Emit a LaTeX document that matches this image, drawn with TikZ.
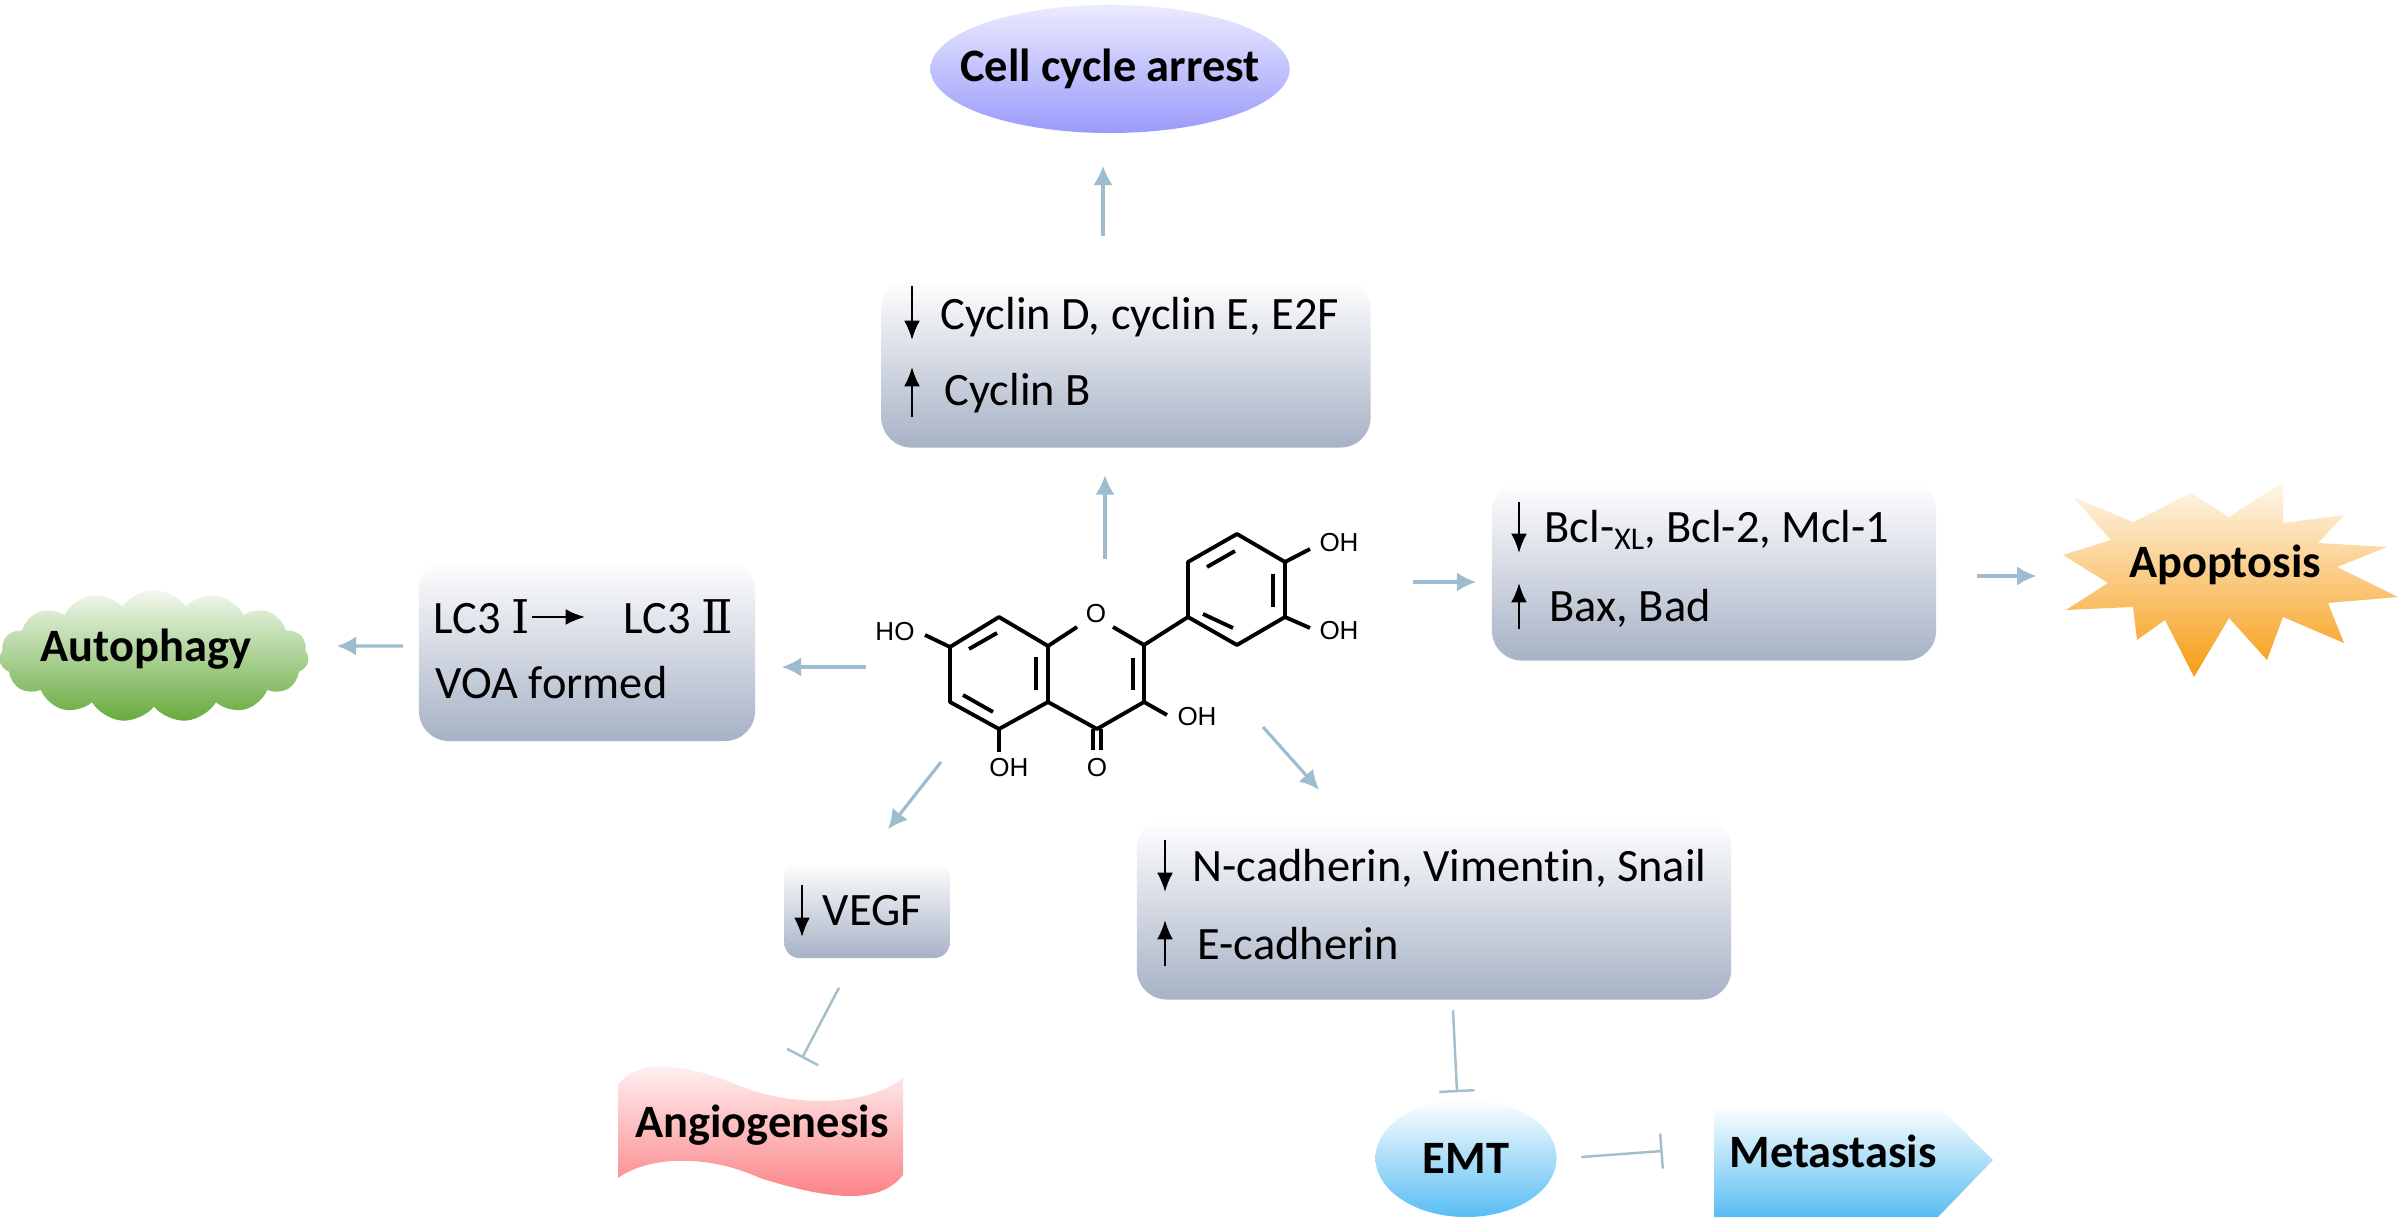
\documentclass[tikz,border=0pt]{standalone}
\usepackage{fontspec}
\setmainfont[RawFeature={-liga}]{Carlito}
\newfontfamily\chemfont{Liberation Sans}
\newfontfamily\numfont{DejaVu Serif}
\usetikzlibrary{arrows.meta,shapes.geometric,shapes.symbols}
\definecolor{flowblue}{HTML}{9DBCD0}
\definecolor{teeblue}{HTML}{A6BECB}
\definecolor{boxgray}{HTML}{A7B2C6}
\definecolor{arrestblue}{HTML}{9A9AFA}
\definecolor{autogreen}{HTML}{66AB3C}
\definecolor{apoorange}{HTML}{F79C14}
\definecolor{angiored}{HTML}{FB7C80}
\definecolor{emtblue}{HTML}{58BDF2}
\tikzset{
    flow/.style={-{Latex[length=5.5pt,width=5.5pt]}, line width=0.9pt, flowblue},
    tee/.style={-{Bar[width=10pt,line width=0.7pt]}, line width=0.7pt, teeblue},
    regbox/.style={rectangle, rounded corners=0.3cm, top color=white, bottom color=boxgray, inner sep=0pt},
    regtext/.style={anchor=west, inner sep=0pt, font=\fontsize{13.2}{15}\selectfont},
    effect/.style={inner sep=0pt, font=\fontsize{13.2}{15}\selectfont\bfseries},
    regup/.style={{Latex[length=5.5pt,width=4.5pt]}-, line width=0.6pt, black},
    regdown/.style={-{Latex[length=5.5pt,width=4.5pt]}, line width=0.6pt, black},
    bond/.style={line width=1.1pt, line join=round, black},
    atom/.style={inner sep=0pt, font=\chemfont\fontsize{7.4}{9}\selectfont}
}
\begin{document}
\begin{tikzpicture}[x=0.01cm,y=-0.01cm]
    \useasboundingbox (0,0) rectangle (2400,1222);

    % Quercetin
    \draw[bond] (950,647) -- (999,617) -- (1048,646) -- (1048,702) -- (999,729) -- (950,702) -- cycle;
    \draw[bond] (969,649) -- (997,633);
    \draw[bond] (1036,657) -- (1036,690);
    \draw[bond] (963,695) -- (993,712);
    \draw[bond] (1048,646) -- (1077,627);
    \draw[bond] (1113,627) -- (1144,645) -- (1144,702) -- (1097,729) -- (1048,702);
    \draw[bond] (1133,658) -- (1133,690);
    \draw[bond] (1093,729) -- (1093,750);
    \draw[bond] (1101,729) -- (1101,750);
    \draw[bond] (1144,645) -- (1188,617);
    \draw[bond] (1188,617) -- (1188,562) -- (1237,534) -- (1285,562) -- (1285,617) -- (1237,645) -- cycle;
    \draw[bond] (1207,567) -- (1235,551);
    \draw[bond] (1273,574) -- (1273,607);
    \draw[bond] (1203,614) -- (1233,628);
    \draw[bond] (1285,562) -- (1310,549);
    \draw[bond] (1285,617) -- (1310,628);
    \draw[bond] (1144,702) -- (1167,715);
    \draw[bond] (999,729) -- (999,752);
    \draw[bond] (950,647) -- (925,635);
    \node[atom] (ringo) at (1096,614) {O};
    \node[atom] (keto) at (1097,768) {O};
    \node[atom] (ohseven) at (895,632) {HO};
    \node[atom] (ohfive) at (1009,768) {OH};
    \node[atom] (ohthree) at (1197,717) {OH};
    \node[atom] (ohfour) at (1339,543) {OH};
    \node[atom] (ohthreep) at (1339,631) {OH};

    % Free ends next to the molecule
    \coordinate (molnorth) at (1105,559);
    \coordinate (moleast) at (1413,582);
    \coordinate (molwest) at (866,667);
    \coordinate (molsw) at (941,762);
    \coordinate (molse) at (1263,727);

    % Regulator boxes
    \node[regbox, minimum width=4.89cm, minimum height=1.69cm] (cyclinbox) at (1126,363) {};
    \node[regbox, minimum width=4.44cm, minimum height=1.79cm] (bclbox) at (1714,571) {};
    \node[regbox, minimum width=3.36cm, minimum height=1.82cm] (lcbox) at (587,650) {};
    \node[regbox, minimum width=1.65cm, minimum height=0.96cm, rounded corners=0.15cm] (vegfbox) at (867,910) {};
    \node[regbox, minimum width=5.94cm, minimum height=1.81cm] (cadbox) at (1434,909) {};

    % Box texts
    \node[regtext] (cycdown) at (940,317) {Cyclin D, cyclin E, E2F};
    \node[regtext] (cycup) at (944,393) {Cyclin B};
    \node[regtext] (bcldown) at (1544,530) {Bcl-\raisebox{-2pt}{\fontsize{9}{9}\selectfont XL}, Bcl-2, Mcl-1};
    \node[regtext] (bclup) at (1549,608) {Bax, Bad};
    \node[regtext] (lcone) at (433,617) {LC3 \numfont Ⅰ};
    \node[regtext] (lctwo) at (623,617) {LC3 \numfont Ⅱ};
    \node[regtext] (voa) at (435,683) {VOA formed};
    \node[regtext] (vegfdown) at (822,911) {VEGF};
    \node[regtext] (caddown) at (1192,868) {N-cadherin, Vimentin, Snail};
    \node[regtext] (cadup) at (1197,944) {E-cadherin};

    % Small black arrows
    \draw[regdown] ([shift={(-28,-31)}]cycdown.west) -- ([shift={(-28,23)}]cycdown.west);
    \draw[regup] ([shift={(-32,-26)}]cycup.west) -- ([shift={(-32,24)}]cycup.west);
    \draw[regdown] ([shift={(-25,-28)}]bcldown.west) -- ([shift={(-25,23)}]bcldown.west);
    \draw[regup] ([shift={(-30,-25)}]bclup.west) -- ([shift={(-30,21)}]bclup.west);
    \draw[regdown] ([shift={(-20,-26)}]vegfdown.west) -- ([shift={(-20,26)}]vegfdown.west);
    \draw[regdown] ([shift={(-27,-28)}]caddown.west) -- ([shift={(-27,24)}]caddown.west);
    \draw[regup] ([shift={(-32,-24)}]cadup.west) -- ([shift={(-32,22)}]cadup.west);
    \draw[regdown] ([shift={(1,0)}]lcone.east) -- ([shift={(-38,0)}]lctwo.west);

    % Effects
    \node[ellipse, minimum width=3.59cm, minimum height=1.28cm, inner sep=0pt, top color=white!92!blue, bottom color=arrestblue] (arrestshape) at (1110,69) {};
    \node[effect] (arrest) at (1110,69) {Cell cycle arrest};
    \node[cloud, cloud puffs=15, cloud puff arc=110, aspect=2.3, minimum width=3.09cm, minimum height=1.32cm, inner sep=0pt, top color=autogreen!8!white, bottom color=autogreen] (cloudshape) at (154,656) {};
    \node[effect] (autophagy) at (146,649) {Autophagy};
    \shade[top color=apoorange!8!white, bottom color=apoorange] (2073,497) -- (2133,522) -- (2191,493) -- (2229,517) -- (2283,482) -- (2283,523) -- (2344,515) -- (2318,543) -- (2387,547) -- (2337,567) -- (2398,597) -- (2328,603) -- (2344,643) -- (2283,617) -- (2267,660) -- (2229,618) -- (2194,677) -- (2165,620) -- (2137,640) -- (2133,607) -- (2066,610) -- (2108,583) -- (2063,555) -- (2111,540) -- cycle;
    \node[effect] (apoptosis) at (2225,565) {Apoptosis};
    \shade[top color=angiored!5!white, bottom color=angiored] (618,1085) .. controls (640,1055) and (690,1065) .. (745,1088) .. controls (800,1108) and (870,1105) .. (903,1078) -- (903,1175) .. controls (880,1205) and (830,1200) .. (760,1178) .. controls (710,1155) and (650,1155) .. (618,1178) -- cycle;
    \node[effect] (angio) at (762,1125) {Angiogenesis};
    \node[ellipse, minimum width=1.81cm, minimum height=1.18cm, inner sep=0pt, top color=white, bottom color=emtblue, font=\fontsize{13.2}{15}\selectfont\bfseries] (emt) at (1466,1158) {EMT};
    \shade[top color=white, bottom color=emtblue] (1714,1106) -- (1938,1106) -- (1993,1160) -- (1938,1217) -- (1714,1217) -- cycle;
    \node[effect] (metastasis) at (1833,1151) {Metastasis};

    % Connectors
    \draw[flow] (molnorth) -- ([shift={(-21,27)}]cyclinbox.south);
    \draw[flow] ([shift={(-23,-42)}]cyclinbox.north) -- ([shift={(-7,32)}]arrestshape.south);
    \draw[flow] (moleast) -- ([shift={(-15,11)}]bclbox.west);
    \draw[flow] ([shift={(40,5)}]bclbox.east) -- ([shift={(-92,11)}]apoptosis.west);
    \draw[flow] (molwest) -- ([shift={(26,17)}]lcbox.east);
    \draw[flow] ([shift={(-15,-4)}]lcbox.west) -- ([shift={(28,-10)}]cloudshape.east);
    \draw[flow] (molsw) -- ([shift={(21,-32)}]vegfbox.north);
    \draw[flow] (molse) -- ([shift={(-115,-28)}]cadbox.north);
    \draw[tee] ([shift={(-28,29)}]vegfbox.south) -- ([shift={(40,-46)}]angio.north);
    \draw[tee] ([shift={(19,10)}]cadbox.south) -- ([shift={(-9,-6)}]emt.north);
    \draw[tee] ([shift={(24,-1)}]emt.east) -- ([shift={(-66,0)}]metastasis.west);
\end{tikzpicture}
\end{document}
